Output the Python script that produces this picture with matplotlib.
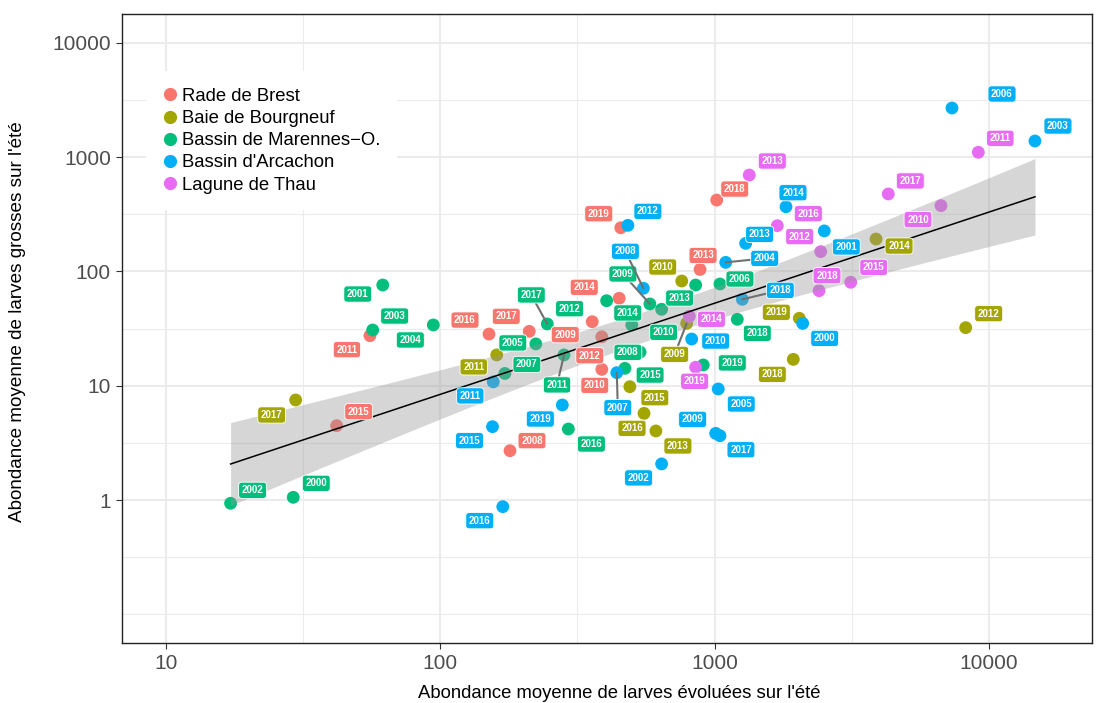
import numpy as np
import matplotlib
matplotlib.use("Agg")
import matplotlib.pyplot as plt
from matplotlib.lines import Line2D
from matplotlib.ticker import NullLocator

plt.rcParams.update({'font.family': ['Liberation Sans', 'DejaVu Sans']})

SITES = ["Rade de Brest", "Baie de Bourgneuf", "Bassin de Marennes\u2212O.",
         "Bassin d'Arcachon", "Lagune de Thau"]
COLORS = ["#F8766D", "#A3A500", "#00BF7D", "#00B0F6", "#E76BF3"]

# x = larves evoluees, y = larves grosses (moyennes sur l'ete)
brest_year = [2008, 2009, 2010, 2011, 2012, 2013, 2014, 2015, 2016, 2017, 2018, 2019]
brest_evol = [179.5, 358, 388, 55.4, 388, 885, 449, 41.9, 150.5, 211, 1018, 455]
brest_gros = [2.70, 36.3, 13.9, 27.4, 26.8, 104, 58.2, 4.47, 28.3, 29.9, 421, 241]

bourg_year = [2009, 2010, 2011, 2012, 2013, 2014, 2015, 2016, 2017, 2018, 2019]
bourg_evol = [791, 759, 160.6, 8231, 611, 3877, 491, 553, 29.7, 1936, 2036]
bourg_gros = [35.1, 82.4, 18.6, 32.2, 4.02, 192, 9.80, 5.73, 7.50, 17.0, 38.9]

maren_year = list(range(2000, 2020))
maren_evol = [29.1, 61.7, 17.2, 56.7, 94.3, 223, 1046, 172, 471, 581,
              641, 282.5, 404, 853, 499, 535, 293, 245.5, 1210, 909]
maren_gros = [1.056, 76.0, 0.936, 30.7, 34.0, 23.2, 77.6, 12.8, 14.2, 51.9,
              46.6, 18.6, 55.4, 76.0, 34.0, 19.7, 4.18, 34.7, 38.1, 15.2]

arca_year = list(range(2000, 2020))
arca_evol = [2095, 2511, 641, 14720, 1098, 1031, 7336, 440, 550, 1009,
             825, 156, 483, 1298, 1821, 155, 169, 1046, 1262, 278.5]
arca_gros = [35.1, 226, 2.07, 1383, 120, 9.36, 2689, 13.0, 71.2, 3.83,
             25.6, 10.8, 253, 176, 368, 4.38, 0.874, 3.65, 57.0, 6.78]

thau_year = list(range(2010, 2020))
thau_evol = [6689, 9150, 2437, 1338, 809, 3135, 1693, 4297, 2403, 853]
thau_gros = [376, 1102, 149, 697, 40.5, 80.3, 251, 476, 67.8, 14.5]

# label offsets in pixels (dx right, dy down), as placed by the repel step
brest_off = [(22, -10), (-27, 13), (-7, 16), (-23, 14), (-12, 19), (3, -14),
             (-35, -11), (22, -14), (-24, -14), (-23, -15), (18, -11), (-22, -14)]
bourg_off = [(-12, 31), (-19, -14), (-23, 12), (23, -14), (22, 15), (23, 7),
             (25, 11), (-12, 15), (-24, 15), (-21, 15), (-23, -6)]
maren_off = [(23, -14), (-25, 9), (22, -13), (22, -14), (-23, 15), (-23, -1),
             (20, -5), (22, -9), (3, -16), (-27, -30), (2, 23), (-7, 30),
             (-37, 8), (-16, 13), (-4, -12), (10, 23), (23, 15), (-16, -29),
             (20, 14), (29, -2)]
arca_off = [(22, 15), (22, 16), (-23, 14), (23, -15), (39, -4), (23, 15),
            (50, -14), (1, 35), (-18, -37), (-23, -14), (24, 2), (-23, 14),
            (20, -14), (14, -9), (7, -14), (-23, 14), (-23, 14), (21, 14),
            (38, -9), (-22, 14)]
thau_off = [(-23, 14), (22, -14), (-21, -15), (23, -14), (22, 3), (23, -15),
            (31, -12), (22, -13), (8, -15), (-1, 14)]

SEGMENTS = {(1, 2009), (2, 2009), (2, 2011), (2, 2017), (3, 2004),
            (3, 2007), (3, 2008), (3, 2018)}

groups = [(brest_year, brest_evol, brest_gros, brest_off),
          (bourg_year, bourg_evol, bourg_gros, bourg_off),
          (maren_year, maren_evol, maren_gros, maren_off),
          (arca_year, arca_evol, arca_gros, arca_off),
          (thau_year, thau_evol, thau_gros, thau_off)]

W, H = 1106, 703
fig = plt.figure(figsize=(W / 100, H / 100), dpi=100)
fig.patch.set_facecolor('white')
ax = fig.add_axes([122 / W, 60 / H, 970 / W, 629 / H])
ax.set_xscale('log'); ax.set_yscale('log')
ax.set_xlim(6.913, 23760); ax.set_ylim(0.0561, 17865)

# grid (major decades, minor half decades)
for v in [10, 100, 1000, 10000]:
    ax.axvline(v, color='#EBEBEB', lw=1.5, zorder=0)
for v in [10**1.5, 10**2.5, 10**3.5]:
    ax.axvline(v, color='#EBEBEB', lw=0.75, zorder=0)
for v in [1, 10, 100, 1000, 10000]:
    ax.axhline(v, color='#EBEBEB', lw=1.5, zorder=0)
for v in [0.1, 10**-0.5, 10**0.5, 10**1.5, 10**2.5, 10**3.5]:
    ax.axhline(v, color='#EBEBEB', lw=0.75, zorder=0)

for (yr, ex, gr, off), col in zip(groups, COLORS):
    ax.scatter(ex, gr, s=85, color=col, edgecolor='none', zorder=2)

# linear fit in log-log space with 95% confidence band
lx = np.log10(np.concatenate([g[1] for g in groups]))
ly = np.log10(np.concatenate([g[2] for g in groups]))
slope, icpt = np.polyfit(lx, ly, 1)
n = len(lx)
s = np.sqrt(np.sum((ly - (icpt + slope * lx))**2) / (n - 2))
xs = np.linspace(lx.min(), lx.max(), 100)
se = s * np.sqrt(1 / n + (xs - lx.mean())**2 / np.sum((lx - lx.mean())**2))
fit = icpt + slope * xs
ax.fill_between(10**xs, 10**(fit - 1.994 * se), 10**(fit + 1.994 * se),
                color='#999999', alpha=0.4, lw=0, zorder=3)
ax.plot(10**xs, 10**fit, color='black', lw=1.1, zorder=4)

for gi, ((yr, ex, gr, off), col) in enumerate(zip(groups, COLORS)):
    for y0, x, y, (dx, dy) in zip(yr, ex, gr, off):
        seg = (gi, y0) in SEGMENTS
        ax.annotate(str(y0), xy=(x, y), xytext=(dx, -dy), textcoords='offset pixels',
                    ha='center', va='center', fontsize=7, fontweight='bold', color='white',
                    bbox=dict(boxstyle='round,pad=0.32,rounding_size=0.35', fc=col,
                              ec='white', lw=0.6),
                    arrowprops=dict(arrowstyle='-', color='#707070', lw=1.5,
                                    shrinkA=0, shrinkB=0) if seg else None,
                    zorder=6)

ax.set_xticks([10, 100, 1000, 10000])
ax.set_xticklabels(['10', '100', '1000', '10000'])
ax.set_yticks([1, 10, 100, 1000, 10000])
ax.set_yticklabels(['1', '10', '100', '1000', '10000'])
ax.xaxis.set_minor_locator(NullLocator()); ax.yaxis.set_minor_locator(NullLocator())
ax.tick_params(length=4, width=0.8, color='#333333', labelsize=15, labelcolor='#4D4D4D', pad=4)
for sp in ax.spines.values():
    sp.set_color('#222222'); sp.set_linewidth(1.0)

fig.text(619 / W, 1 - 693 / H, "Abondance moyenne de larves \u00e9volu\u00e9es sur l'\u00e9t\u00e9",
         ha='center', va='center', fontsize=13.3)
fig.text(18 / W, 1 - 322 / H, "Abondance moyenne de larves grosses sur l'\u00e9t\u00e9",
         ha='center', va='center', fontsize=13.6, rotation=90)

handles = [Line2D([0], [0], marker='o', ls='none', ms=9.5, markerfacecolor=c,
                  markeredgecolor='none', label=lab) for c, lab in zip(COLORS, SITES)]
leg = ax.legend(handles=handles, loc='upper left', bbox_to_anchor=(0.0247, 0.909),
                fontsize=13.3, frameon=True, fancybox=False, edgecolor='none',
                facecolor='white', framealpha=1, handlelength=0.8, handletextpad=0.25,
                labelspacing=0.28, borderpad=0.9, borderaxespad=0)
leg.set_zorder(7)

fig.savefig("out.png", dpi=100, facecolor='white')
